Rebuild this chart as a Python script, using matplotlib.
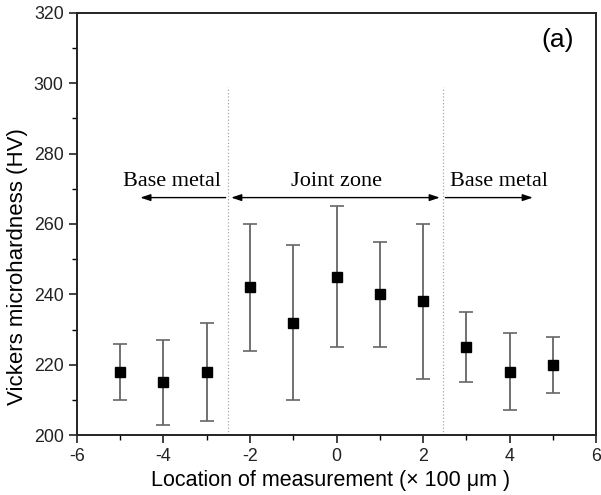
import numpy as np
import matplotlib
matplotlib.use('Agg')
import matplotlib.pyplot as plt
from matplotlib.ticker import MultipleLocator

# valores
location = [-5, -4, -3, -2, -1, 0, 1, 2, 3, 4, 5]
hardness = [218, 215, 218, 242, 232, 245, 240, 238, 225, 218, 220]
erro = [8, 12, 14, 18, 22, 20, 15, 22, 10, 11, 8]

zone_bounds = [-2.5, 2.45]
arrow_y = 267.5
zone_labels = ['Base metal', 'Joint zone', 'Base metal']
label_x = [-3.8, 0.0, 3.75]

plt.rcParams['font.family'] = ['Liberation Sans', 'DejaVu Sans']

fig = plt.figure(figsize=(6.01, 4.95), dpi=100)
ax = fig.add_axes([0.128, 0.121, 0.864, 0.853])

ax.errorbar(location, hardness, yerr=erro, fmt='none', ecolor='#666666',
            elinewidth=1.3, capsize=5, capthick=1.2, zorder=2)
ax.plot(location, hardness, 's', color='black', markersize=6.5, zorder=3)

# linhas verticais que separam as zonas
for xb in zone_bounds:
    ax.plot([xb, xb], [200, 299], ':', color='#aaaaaa', linewidth=0.9, zorder=1)

# setas das zonas
seta = dict(arrowstyle='-|>,head_length=0.6,head_width=0.2', color='black', lw=1.0, mutation_scale=10)
ax.annotate('', xy=(-4.6, arrow_y), xytext=(zone_bounds[0], arrow_y), arrowprops=seta)
ax.annotate('', xy=(zone_bounds[0], arrow_y), xytext=(zone_bounds[1], arrow_y),
            arrowprops=dict(arrowstyle='<|-|>,head_length=0.6,head_width=0.2', color='black',
                            lw=1.0, mutation_scale=10))
ax.annotate('', xy=(4.6, arrow_y), xytext=(zone_bounds[1], arrow_y), arrowprops=seta)

for txt, xl in zip(zone_labels, label_x):
    ax.text(xl, 269.5, txt, ha='center', va='bottom', fontsize=16,
            family='Liberation Serif')

ax.text(0.957, 0.935, '(a)', transform=ax.transAxes, ha='right', va='center', fontsize=19)

ax.set_xlim(-6, 6)
ax.set_ylim(200, 320)
ax.xaxis.set_major_locator(MultipleLocator(2))
ax.xaxis.set_minor_locator(MultipleLocator(1))
ax.yaxis.set_major_locator(MultipleLocator(20))
ax.yaxis.set_minor_locator(MultipleLocator(10))
ax.tick_params(which='major', direction='out', length=6, width=1.2, labelsize=12.8, colors='#222222')
ax.tick_params(which='minor', direction='out', length=3.5, width=1.0)
ax.set_xticklabels([str(int(v)) for v in ax.get_xticks()])

for s in ax.spines.values():
    s.set_linewidth(1.4)
    s.set_color('#222222')

ax.set_xlabel('Location of measurement (\u00d7 100 \u03bcm )', fontsize=15.5)
ax.xaxis.set_label_coords(0.488, -0.083)
ax.set_ylabel('Vickers microhardness (HV)', fontsize=16)
ax.yaxis.set_label_coords(-0.094, 0.40)

fig.savefig('out.png', dpi=100)
